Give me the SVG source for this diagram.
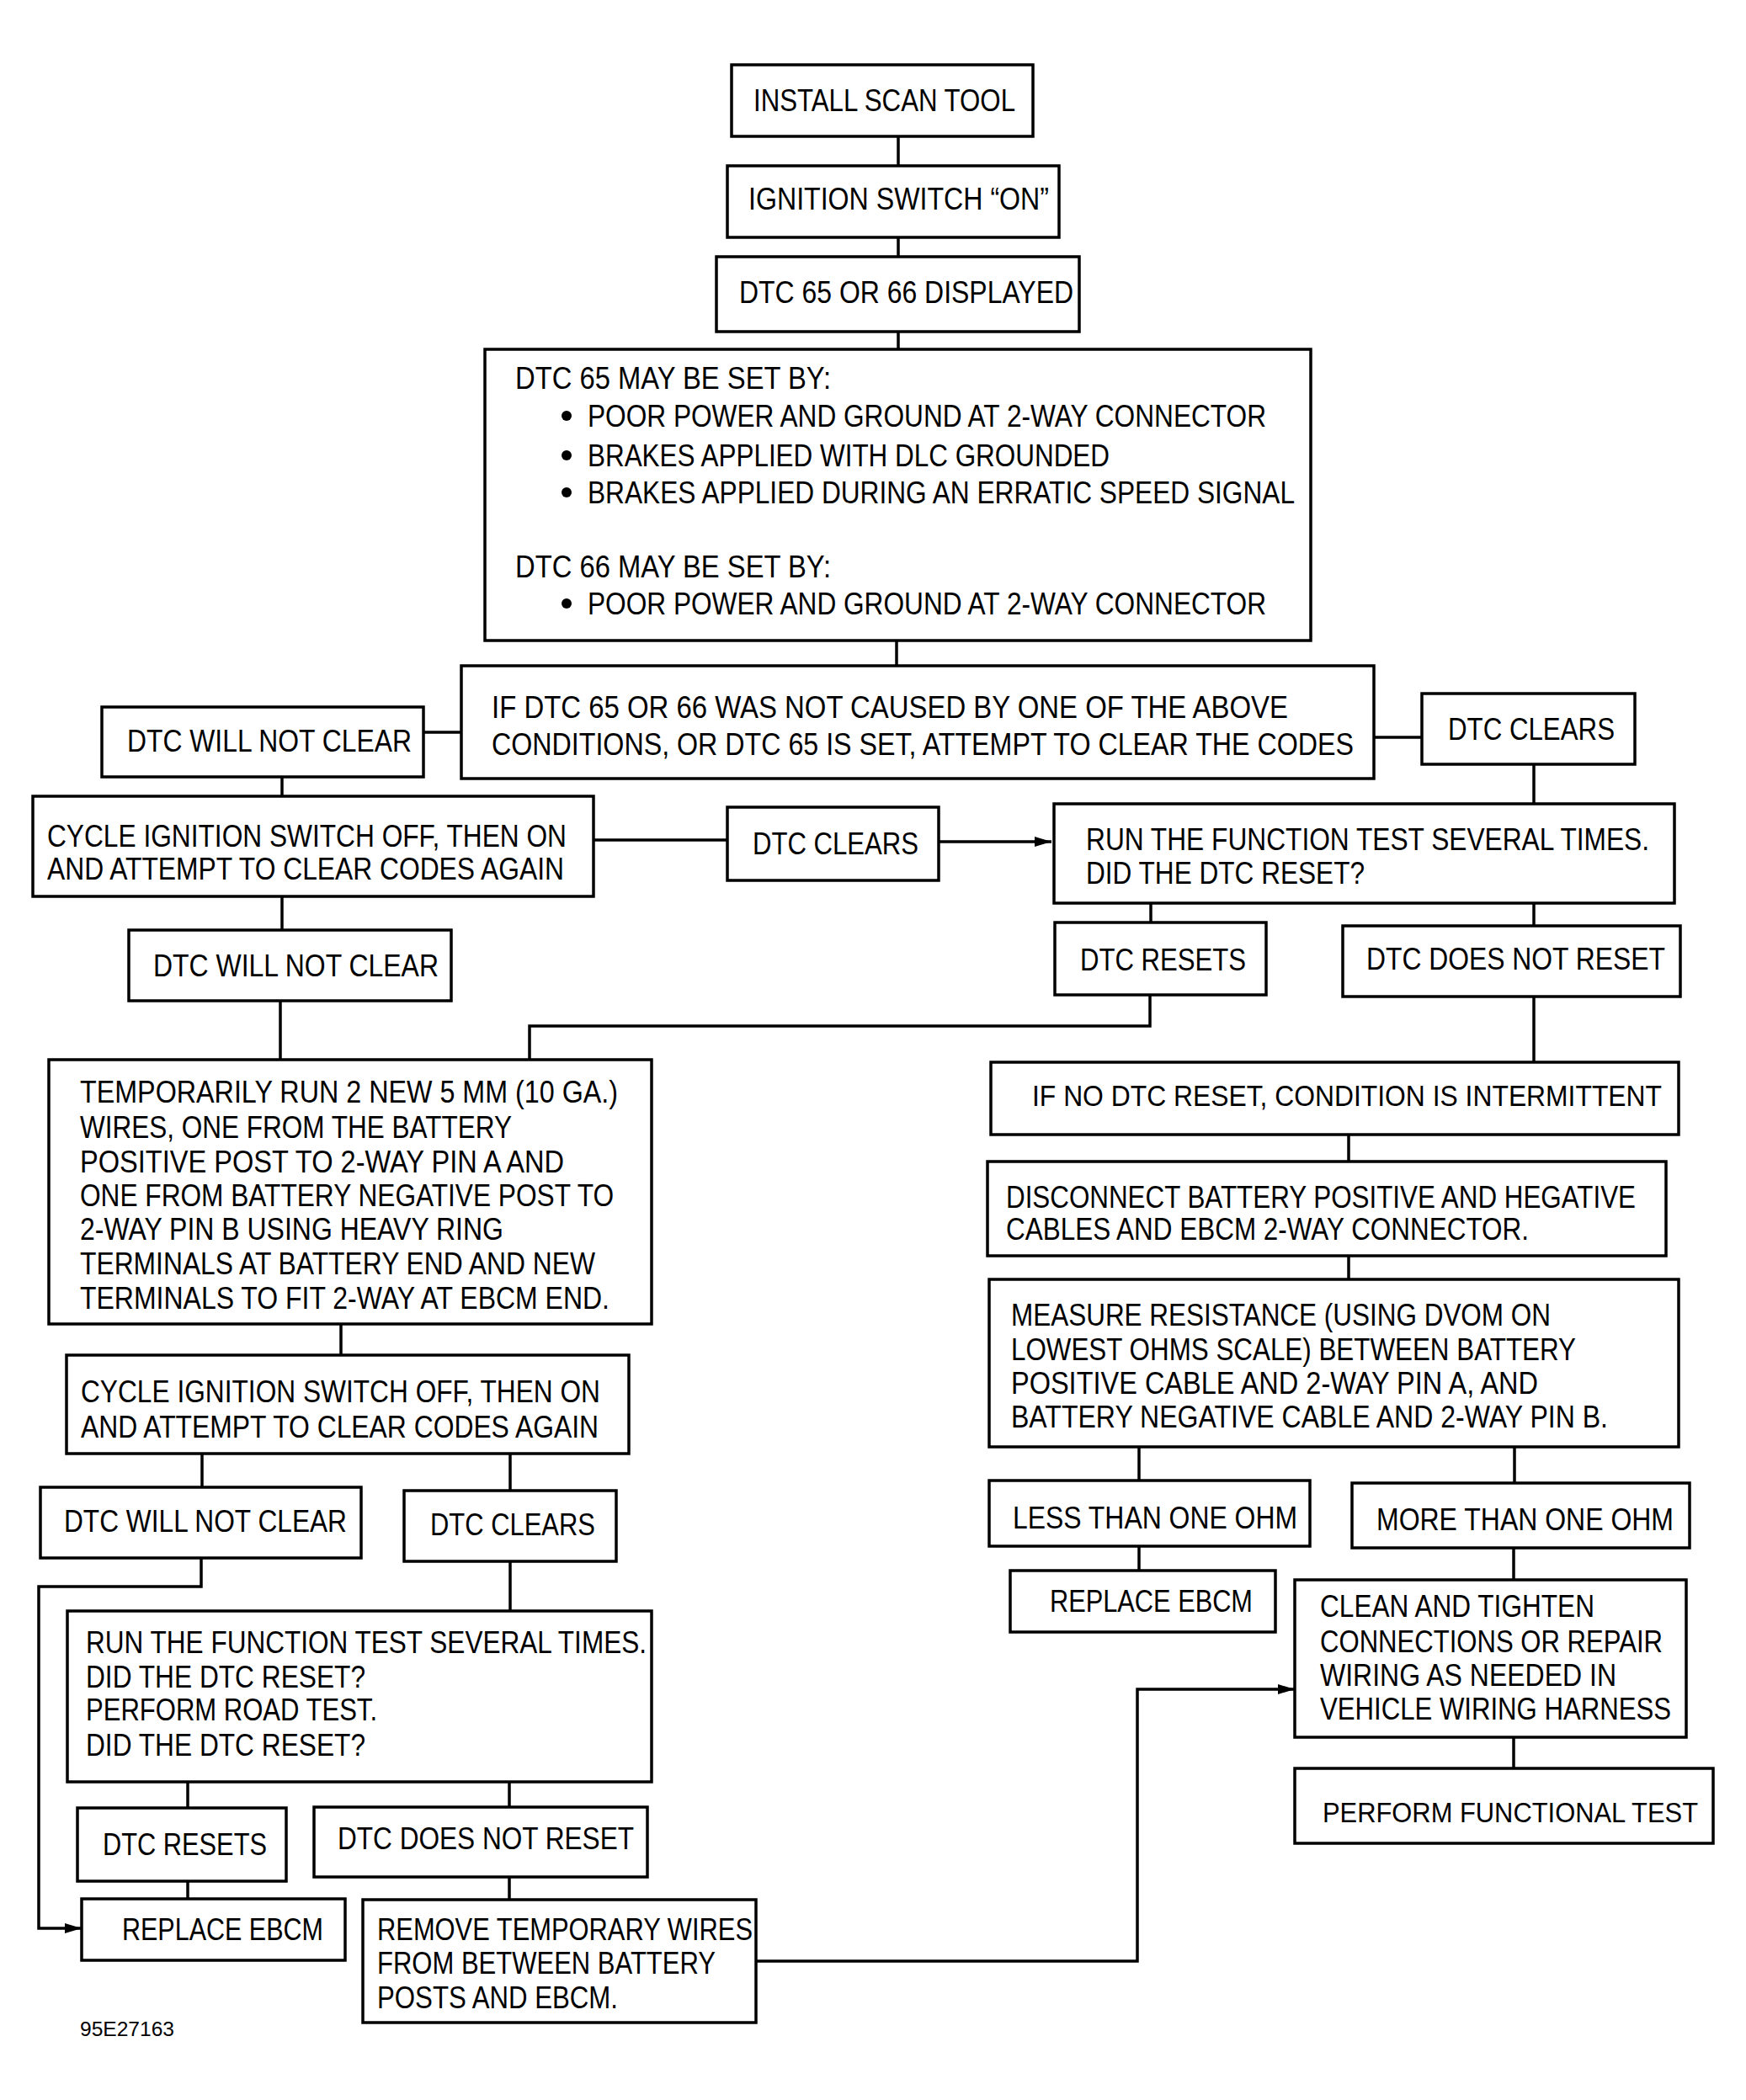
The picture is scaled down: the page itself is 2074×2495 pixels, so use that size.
<svg xmlns="http://www.w3.org/2000/svg" width="2074" height="2495" viewBox="0 0 2074 2495">
<style>
rect{fill:#fff;stroke:#000;stroke-width:3.5}
.c path,.c line{fill:none;stroke:#000;stroke-width:3.5}
text{font-family:"Liberation Sans",Arial,sans-serif;font-size:37px;fill:#000}
.lbl{font-size:24px}
</style>
<defs>
<marker id="ah" markerUnits="userSpaceOnUse" markerWidth="22" markerHeight="14" refX="20" refY="7" orient="auto"><path d="M0,1 L20,7 L0,13 Z" fill="#000"/></marker>
</defs>
<rect x="0" y="0" width="2074" height="2495" style="stroke:none"/>
<g class="c" id="connectors">
<line x1="1067" y1="162" x2="1067" y2="197"/>
<line x1="1067" y1="282" x2="1067" y2="305"/>
<line x1="1067" y1="394" x2="1067" y2="415"/>
<line x1="1065" y1="761" x2="1065" y2="791"/>
<line x1="503" y1="870" x2="548" y2="870"/>
<line x1="1632" y1="876" x2="1689" y2="876"/>
<line x1="335" y1="923" x2="335" y2="946"/>
<line x1="1822" y1="908" x2="1822" y2="955"/>
<line x1="705" y1="998" x2="864" y2="998"/>
<path d="M1115,1000 H1249" marker-end="url(#ah)"/>
<line x1="335" y1="1065" x2="335" y2="1105"/>
<line x1="1367" y1="1073" x2="1367" y2="1096"/>
<line x1="1822" y1="1073" x2="1822" y2="1100"/>
<line x1="333" y1="1189" x2="333" y2="1259"/>
<path d="M1366,1182 V1219 H629 V1259"/>
<line x1="1822" y1="1184" x2="1822" y2="1262"/>
<line x1="1602" y1="1348" x2="1602" y2="1380"/>
<line x1="1602" y1="1492" x2="1602" y2="1520"/>
<line x1="1353" y1="1719" x2="1353" y2="1759"/>
<line x1="1799" y1="1719" x2="1799" y2="1762"/>
<line x1="1353" y1="1837" x2="1353" y2="1866"/>
<line x1="1798" y1="1839" x2="1798" y2="1877"/>
<line x1="405" y1="1573" x2="405" y2="1610"/>
<line x1="240" y1="1727" x2="240" y2="1767"/>
<line x1="606" y1="1727" x2="606" y2="1771"/>
<path d="M239,1851 V1885 H46 V2291 H97" marker-end="url(#ah)"/>
<line x1="606" y1="1855" x2="606" y2="1914"/>
<line x1="223" y1="2117" x2="223" y2="2148"/>
<line x1="605" y1="2117" x2="605" y2="2147"/>
<line x1="223" y1="2235" x2="223" y2="2256"/>
<line x1="605" y1="2230" x2="605" y2="2257"/>
<path d="M898,2330 H1351 V2007 H1538" marker-end="url(#ah)"/>
<line x1="1798" y1="2064" x2="1798" y2="2101"/>
</g>
<g id="n_install"><rect x="869" y="77" width="358" height="85"/><text x="895" y="132" textLength="311" lengthAdjust="spacingAndGlyphs">INSTALL SCAN TOOL</text></g>
<g id="n_ignition"><rect x="864" y="197" width="394" height="85"/><text x="889" y="249" textLength="357" lengthAdjust="spacingAndGlyphs">IGNITION SWITCH “ON”</text></g>
<g id="n_displayed"><rect x="851" y="305" width="431" height="89"/><text x="878" y="360" textLength="397" lengthAdjust="spacingAndGlyphs">DTC 65 OR 66 DISPLAYED</text></g>
<g id="n_causes"><rect x="576" y="415" width="981" height="346"/>
<text x="612" y="462" textLength="375" lengthAdjust="spacingAndGlyphs">DTC 65 MAY BE SET BY:</text>
<circle cx="673" cy="494" r="6"/><text x="698" y="507" textLength="806" lengthAdjust="spacingAndGlyphs">POOR POWER AND GROUND AT 2-WAY CONNECTOR</text>
<circle cx="673" cy="541" r="6"/><text x="698" y="554" textLength="620" lengthAdjust="spacingAndGlyphs">BRAKES APPLIED WITH DLC GROUNDED</text>
<circle cx="673" cy="585" r="6"/><text x="698" y="598" textLength="840" lengthAdjust="spacingAndGlyphs">BRAKES APPLIED DURING AN ERRATIC SPEED SIGNAL</text>
<text x="612" y="686" textLength="375" lengthAdjust="spacingAndGlyphs">DTC 66 MAY BE SET BY:</text>
<circle cx="673" cy="717" r="6"/><text x="698" y="730" textLength="806" lengthAdjust="spacingAndGlyphs">POOR POWER AND GROUND AT 2-WAY CONNECTOR</text>
</g>
<g id="n_ifdtc"><rect x="548" y="791" width="1084" height="134"/><text x="584" y="853" textLength="946" lengthAdjust="spacingAndGlyphs">IF DTC 65 OR 66 WAS NOT CAUSED BY ONE OF THE ABOVE</text><text x="584" y="897" textLength="1024" lengthAdjust="spacingAndGlyphs">CONDITIONS, OR DTC 65 IS SET, ATTEMPT TO CLEAR THE CODES</text></g>
<g id="n_willnot1"><rect x="121" y="840" width="382" height="83"/><text x="151" y="893" textLength="338" lengthAdjust="spacingAndGlyphs">DTC WILL NOT CLEAR</text></g>
<g id="n_clears1"><rect x="1689" y="824" width="253" height="84"/><text x="1720" y="879" textLength="198" lengthAdjust="spacingAndGlyphs">DTC CLEARS</text></g>
<g id="n_cycle1"><rect x="39" y="946" width="666" height="119"/><text x="56" y="1006" textLength="617" lengthAdjust="spacingAndGlyphs">CYCLE IGNITION SWITCH OFF, THEN ON</text><text x="56" y="1045" textLength="614" lengthAdjust="spacingAndGlyphs">AND ATTEMPT TO CLEAR CODES AGAIN</text></g>
<g id="n_clears2"><rect x="864" y="959" width="251" height="87"/><text x="894" y="1015" textLength="197" lengthAdjust="spacingAndGlyphs">DTC CLEARS</text></g>
<g id="n_run1"><rect x="1252" y="955" width="737" height="118"/><text x="1290" y="1010" textLength="669" lengthAdjust="spacingAndGlyphs">RUN THE FUNCTION TEST SEVERAL TIMES.</text><text x="1290" y="1050" textLength="331" lengthAdjust="spacingAndGlyphs">DID THE DTC RESET?</text></g>
<g id="n_willnot2"><rect x="153" y="1105" width="383" height="84"/><text x="182" y="1160" textLength="339" lengthAdjust="spacingAndGlyphs">DTC WILL NOT CLEAR</text></g>
<g id="n_resets1"><rect x="1253" y="1096" width="251" height="86"/><text x="1283" y="1153" textLength="197" lengthAdjust="spacingAndGlyphs">DTC RESETS</text></g>
<g id="n_doesnot1"><rect x="1595" y="1100" width="401" height="84"/><text x="1623" y="1152" textLength="355" lengthAdjust="spacingAndGlyphs">DTC DOES NOT RESET</text></g>
<g id="n_temp"><rect x="58" y="1259" width="716" height="314"/>
<text x="95" y="1310" textLength="639" lengthAdjust="spacingAndGlyphs">TEMPORARILY RUN 2 NEW 5 MM (10 GA.)</text>
<text x="95" y="1352" textLength="513" lengthAdjust="spacingAndGlyphs">WIRES, ONE FROM THE BATTERY</text>
<text x="95" y="1393" textLength="575" lengthAdjust="spacingAndGlyphs">POSITIVE POST TO 2-WAY PIN A AND</text>
<text x="95" y="1433" textLength="634" lengthAdjust="spacingAndGlyphs">ONE FROM BATTERY NEGATIVE POST TO</text>
<text x="95" y="1473" textLength="503" lengthAdjust="spacingAndGlyphs">2-WAY PIN B USING HEAVY RING</text>
<text x="95" y="1514" textLength="612" lengthAdjust="spacingAndGlyphs">TERMINALS AT BATTERY END AND NEW</text>
<text x="95" y="1555" textLength="629" lengthAdjust="spacingAndGlyphs">TERMINALS TO FIT 2-WAY AT EBCM END.</text>
</g>
<g id="n_ifno"><rect x="1177" y="1262" width="817" height="86"/><text x="1226" y="1314" style="font-size:35.5px" textLength="748" lengthAdjust="spacingAndGlyphs">IF NO DTC RESET, CONDITION IS INTERMITTENT</text></g>
<g id="n_disconnect"><rect x="1173" y="1380" width="806" height="112"/><text x="1195" y="1435" textLength="748" lengthAdjust="spacingAndGlyphs">DISCONNECT BATTERY POSITIVE AND HEGATIVE</text><text x="1195" y="1473" textLength="621" lengthAdjust="spacingAndGlyphs">CABLES AND EBCM 2-WAY CONNECTOR.</text></g>
<g id="n_measure"><rect x="1175" y="1520" width="819" height="199"/>
<text x="1201" y="1575" textLength="641" lengthAdjust="spacingAndGlyphs">MEASURE RESISTANCE (USING DVOM ON</text>
<text x="1201" y="1616" textLength="671" lengthAdjust="spacingAndGlyphs">LOWEST OHMS SCALE) BETWEEN BATTERY</text>
<text x="1201" y="1656" textLength="626" lengthAdjust="spacingAndGlyphs">POSITIVE CABLE AND 2-WAY PIN A, AND</text>
<text x="1201" y="1696" textLength="709" lengthAdjust="spacingAndGlyphs">BATTERY NEGATIVE CABLE AND 2-WAY PIN B.</text>
</g>
<g id="n_cycle2"><rect x="79" y="1610" width="668" height="117"/><text x="96" y="1666" textLength="617" lengthAdjust="spacingAndGlyphs">CYCLE IGNITION SWITCH OFF, THEN ON</text><text x="96" y="1708" textLength="615" lengthAdjust="spacingAndGlyphs">AND ATTEMPT TO CLEAR CODES AGAIN</text></g>
<g id="n_willnot3"><rect x="48" y="1767" width="381" height="84"/><text x="76" y="1820" textLength="336" lengthAdjust="spacingAndGlyphs">DTC WILL NOT CLEAR</text></g>
<g id="n_clears3"><rect x="480" y="1771" width="252" height="84"/><text x="511" y="1824" textLength="196" lengthAdjust="spacingAndGlyphs">DTC CLEARS</text></g>
<g id="n_less"><rect x="1175" y="1759" width="381" height="78"/><text x="1203" y="1816" textLength="338" lengthAdjust="spacingAndGlyphs">LESS THAN ONE OHM</text></g>
<g id="n_more"><rect x="1606" y="1762" width="401" height="77"/><text x="1635" y="1818" textLength="353" lengthAdjust="spacingAndGlyphs">MORE THAN ONE OHM</text></g>
<g id="n_replace1"><rect x="1200" y="1866" width="315" height="73"/><text x="1247" y="1915" textLength="241" lengthAdjust="spacingAndGlyphs">REPLACE EBCM</text></g>
<g id="n_clean"><rect x="1538" y="1877" width="465" height="187"/>
<text x="1568" y="1921" textLength="326" lengthAdjust="spacingAndGlyphs">CLEAN AND TIGHTEN</text>
<text x="1568" y="1963" textLength="407" lengthAdjust="spacingAndGlyphs">CONNECTIONS OR REPAIR</text>
<text x="1568" y="2003" textLength="352" lengthAdjust="spacingAndGlyphs">WIRING AS NEEDED IN</text>
<text x="1568" y="2043" textLength="417" lengthAdjust="spacingAndGlyphs">VEHICLE WIRING HARNESS</text>
</g>
<g id="n_run2"><rect x="80" y="1914" width="694" height="203"/>
<text x="102" y="1964" textLength="666" lengthAdjust="spacingAndGlyphs">RUN THE FUNCTION TEST SEVERAL TIMES.</text>
<text x="102" y="2005" textLength="332" lengthAdjust="spacingAndGlyphs">DID THE DTC RESET?</text>
<text x="102" y="2044" textLength="346" lengthAdjust="spacingAndGlyphs">PERFORM ROAD TEST.</text>
<text x="102" y="2086" textLength="332" lengthAdjust="spacingAndGlyphs">DID THE DTC RESET?</text>
</g>
<g id="n_perform"><rect x="1538" y="2101" width="497" height="89"/><text x="1571" y="2165" style="font-size:34px" textLength="446" lengthAdjust="spacingAndGlyphs">PERFORM FUNCTIONAL TEST</text></g>
<g id="n_resets2"><rect x="92" y="2148" width="248" height="87"/><text x="122" y="2204" textLength="195" lengthAdjust="spacingAndGlyphs">DTC RESETS</text></g>
<g id="n_doesnot2"><rect x="373" y="2147" width="396" height="83"/><text x="401" y="2197" textLength="352" lengthAdjust="spacingAndGlyphs">DTC DOES NOT RESET</text></g>
<g id="n_replace2"><rect x="97" y="2256" width="313" height="73"/><text x="145" y="2305" textLength="239" lengthAdjust="spacingAndGlyphs">REPLACE EBCM</text></g>
<g id="n_remove"><rect x="431" y="2257" width="467" height="146"/>
<text x="448" y="2305" textLength="446" lengthAdjust="spacingAndGlyphs">REMOVE TEMPORARY WIRES</text>
<text x="448" y="2345" textLength="402" lengthAdjust="spacingAndGlyphs">FROM BETWEEN BATTERY</text>
<text x="448" y="2386" textLength="286" lengthAdjust="spacingAndGlyphs">POSTS AND EBCM.</text>
</g>
<text class="lbl" x="95" y="2419" textLength="112" lengthAdjust="spacingAndGlyphs">95E27163</text>
</svg>
